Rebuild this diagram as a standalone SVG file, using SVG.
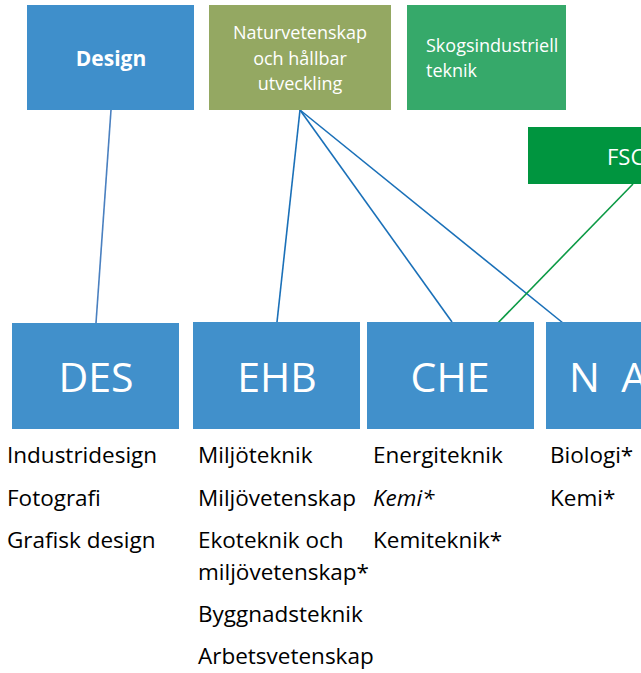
<svg xmlns="http://www.w3.org/2000/svg" width="641" height="673" viewBox="0 0 641 673">
<style>
.box{fill:#4190cb}
.wt{fill:#ffffff;font-family:"Open Sans","Liberation Sans",sans-serif}
.big{font-size:41px;text-anchor:middle}
.lst{fill:#000000;font-family:"Open Sans","Liberation Sans",sans-serif;font-size:22.5px}
.c{stroke-width:1.6;fill:none}
</style>
<rect width="641" height="673" fill="#ffffff"/>
<g id="connectors">
<line class="c" x1="111" y1="110" x2="96" y2="323" stroke="#4a80c0"/>
<line class="c" x1="300" y1="110" x2="277" y2="322" stroke="#1a70b8"/>
<line class="c" x1="300" y1="110" x2="452" y2="322" stroke="#1a70b8"/>
<line class="c" x1="300" y1="110" x2="563" y2="323" stroke="#1a70b8"/>
<line class="c" x1="633" y1="184" x2="493" y2="328" stroke="#0c9a45"/>
</g>
<g id="design">
<rect x="27" y="5" width="167" height="105" fill="#3f8fcb"/>
<text class="wt" x="111" y="66" font-size="21" font-weight="bold" text-anchor="middle">Design</text>
</g>
<g id="naturvetenskap">
<rect x="209" y="5" width="182" height="105" fill="#94a862"/>
<text class="wt" font-size="18" text-anchor="middle"><tspan x="300" y="39">Naturvetenskap</tspan><tspan x="300" y="65">och hållbar</tspan><tspan x="300" y="90">utveckling</tspan></text>
</g>
<g id="skogsindustriell">
<rect x="407" y="5" width="159" height="105" fill="#36a96a"/>
<text class="wt" font-size="18"><tspan x="426" y="52">Skogsindustriell</tspan><tspan x="426" y="77">teknik</tspan></text>
</g>
<g id="fsc">
<rect x="528" y="127" width="113" height="57" fill="#00953f"/>
<text class="wt" x="607" y="165" font-size="22">FSC</text>
</g>
<g id="des">
<rect class="box" x="12" y="323" width="167" height="106"/>
<text class="wt big" x="96" y="392">DES</text>
</g>
<g id="ehb">
<rect class="box" x="193" y="322" width="167" height="107"/>
<text class="wt big" x="277" y="392">EHB</text>
</g>
<g id="che">
<rect class="box" x="367" y="322" width="167" height="107"/>
<text class="wt big" x="450" y="392">CHE</text>
</g>
<g id="na">
<rect class="box" x="546" y="322" width="95" height="107"/>
<text class="wt" x="569" y="392" font-size="41" xml:space="preserve">N  A</text>
</g>
<g id="lists">
<text class="lst" x="7" y="463">Industridesign</text>
<text class="lst" x="7" y="506">Fotografi</text>
<text class="lst" x="7" y="548">Grafisk design</text>
<text class="lst" x="198" y="463">Miljöteknik</text>
<text class="lst" x="198" y="506">Miljövetenskap</text>
<text class="lst" x="198" y="548">Ekoteknik och</text>
<text class="lst" x="198" y="580">miljövetenskap*</text>
<text class="lst" x="198" y="622">Byggnadsteknik</text>
<text class="lst" x="198" y="664">Arbetsvetenskap</text>
<text class="lst" x="373" y="463">Energiteknik</text>
<text class="lst" x="373" y="506" font-style="italic">Kemi*</text>
<text class="lst" x="373" y="548">Kemiteknik*</text>
<text class="lst" x="550" y="463">Biologi*</text>
<text class="lst" x="550" y="506">Kemi*</text>
</g>
</svg>
